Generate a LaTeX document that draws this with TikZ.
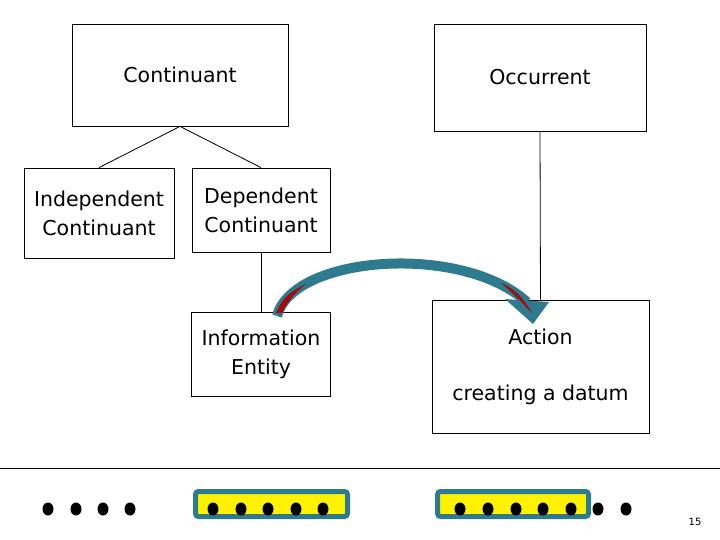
\documentclass[tikz,border=0pt]{standalone}
\usepackage{fontspec}
\setmainfont{DejaVu Sans}
\definecolor{tealarrow}{RGB}{46,123,143}
\definecolor{darkred}{RGB}{165,10,15}

\begin{document}
\begin{tikzpicture}[x=1pt, y=-1pt,
	mybox/.style={draw, line width=0.8pt, inner sep=0pt, align=center, font=\fontsize{20.5}{29}\selectfont},
	myband/.style={draw=tealarrow, line width=5pt, fill=yellow, rounded corners=3pt}]

	\useasboundingbox (0,0) rectangle (720,540);

	% the boxes of the upper part
	\node[mybox, minimum width=216, minimum height=102] (cont) at (180,75) {Continuant};
	\node[mybox, minimum width=212, minimum height=107] (occ) at (540,77.5) {Occurrent};
	\node[mybox, minimum width=150, minimum height=90] (indep) at (99,213) {Independent\\Continuant};
	\node[mybox, minimum width=138, minimum height=84] (dep) at (261,210) {Dependent\\Continuant};
	\node[mybox, minimum width=139, minimum height=84] (info) at (261,354) {Information\\Entity};
	\node[mybox, minimum width=217, minimum height=133] (act) at (540.5,366.5) {Action\\[27pt]creating a datum};

	% lines between them
	\draw[line width=0.8pt] (cont.south) -- (indep.north);
	\draw[line width=0.8pt] (cont.south) -- (dep.north);
	\draw[line width=0.8pt] (dep.south) -- (info.north);
	\draw[line width=0.8pt] (occ.south) -- (act.north);

	% the curved arrow: shaft, head, red core
	\coordinate (src) at (277,316);
	\coordinate (dst) at (527,302);
	\draw[tealarrow, line width=10pt] (src) .. controls (293,255) and (462,243) .. (dst);
	\fill[tealarrow] (505,299) -- (549,302) -- (533,324) -- cycle;
	\fill[darkred] (276,313) .. controls (281,299) and (292,290) .. (306,284)
		.. controls (295,293) and (287,302) .. (282,313) -- cycle;
	\fill[darkred] (501,283) .. controls (514,288) and (524,298) .. (532,313)
		.. controls (527,309) and (522,301) .. (501,283) -- cycle;

	% bottom rule and dots
	\draw[line width=0.8pt] (0,468) -- (720,468);
	\draw[myband] (195.5,491.5) rectangle (347.5,516.5);
	\draw[myband] (437.5,491.5) rectangle (588.5,516.5);
	\foreach \x in {48,76,103,130,213,241,268,296,323,460,488,516,543,571,598,626}
		\fill (\x,509) ellipse [x radius=5.5pt, y radius=6.5pt];

	\node[font=\fontsize{10}{12}\selectfont] (pagenum) at (695,522) {15};

\end{tikzpicture}
\end{document}
